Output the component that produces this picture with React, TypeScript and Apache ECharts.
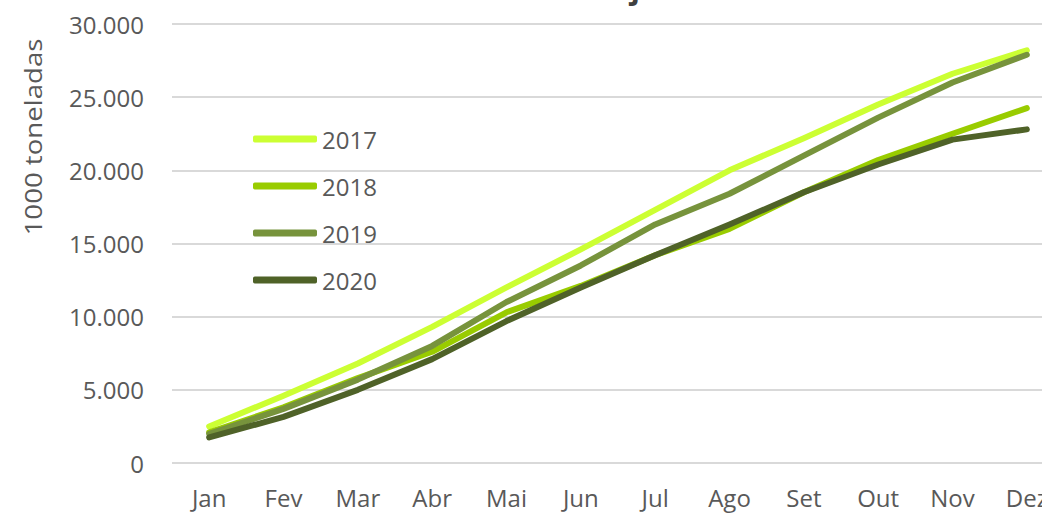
import React, { useEffect, useRef } from "react";
import * as echarts from "echarts";

const months = ["Jan", "Fev", "Mar", "Abr", "Mai", "Jun", "Jul", "Ago", "Set", "Out", "Nov", "Dez"];
const s2017 = [2500, 4600, 6800, 9300, 12000, 14600, 17300, 20000, 22200, 24500, 26600, 28200];
const s2018 = [2100, 3800, 5800, 7600, 10300, 12100, 14200, 16000, 18500, 20700, 22500, 24250];
const s2019 = [2000, 3700, 5700, 8000, 11000, 13500, 16300, 18400, 21000, 23600, 26000, 27900];
const s2020 = [1750, 3150, 5000, 7100, 9700, 12000, 14200, 16300, 18500, 20400, 22100, 22800];
const seriesNames = ["2017", "2018", "2019", "2020"];
const colors = ["#CCFF33", "#99CC00", "#77933C", "#4F6228"];
const yTicks = { min: 0, max: 30000, interval: 5000 };
const titleText = "Farelo de soja";
const yName = "1000 toneladas";

const FONT = "Open Sans";

export default function App() {
  const ref = useRef<HTMLDivElement>(null);
  useEffect(() => {
    if (!ref.current) return;
    const chart = echarts.init(ref.current, undefined, { renderer: "svg" });
    const data = [s2017, s2018, s2019, s2020];
    chart.setOption({
      animation: false,
      backgroundColor: "#ffffff",
      textStyle: { fontFamily: FONT },
      grid: { left: 172, right: 0, top: 24, bottom: 51, containLabel: false },
      legend: {
        orient: "vertical",
        left: 248,
        top: 122,
        itemGap: 23,
        itemWidth: 64,
        itemHeight: 7,
        icon: "roundRect",
        data: seriesNames,
        textStyle: { color: "#595959", fontSize: 24, fontFamily: FONT, padding: [0, 0, 0, 0] },
      },
      xAxis: {
        type: "category",
        data: months,
        boundaryGap: true,
        axisLine: { show: false },
        axisTick: { show: false },
        axisLabel: { color: "#595959", fontSize: 24, fontFamily: FONT, margin: 22, interval: 0 },
      },
      yAxis: {
        type: "value",
        min: yTicks.min,
        max: yTicks.max,
        interval: yTicks.interval,
        axisLine: { show: false },
        axisTick: { show: false },
        splitLine: { lineStyle: { color: "#D9D9D9", width: 2 } },
        axisLabel: {
          color: "#595959",
          fontSize: 24,
          fontFamily: FONT,
          margin: 28,
          formatter: (v: number) => (v === 0 ? "0" : v.toLocaleString("de-DE")),
        },
      },
      graphic: [
        {
          type: "text",
          x: 33,
          y: 137,
          rotation: Math.PI / 2,
          scaleX: 1.15,
          style: {
            text: yName,
            fill: "#595959",
            font: `24px "${FONT}"`,
            textAlign: "center",
            textVerticalAlign: "middle",
          },
        },
        {
          type: "text",
          x: 658,
          y: -13,
          style: {
            text: titleText,
            fill: "#404040",
            font: `bold 30px "${FONT}"`,
            textAlign: "right",
            textVerticalAlign: "middle",
          },
        },
      ],
      series: seriesNames.map((name, i) => ({
        name,
        type: "line",
        data: data[i],
        showSymbol: false,
        symbol: "none",
        smooth: false,
        itemStyle: { color: colors[i] },
        lineStyle: { color: colors[i], width: 6, cap: "round", join: "round" },
      })),
    });
    return () => chart.dispose();
  }, []);
  return (
    <div
      style={{
        position: "fixed",
        left: 0,
        top: 0,
        width: 1042,
        height: 514,
        overflow: "hidden",
        background: "#ffffff",
      }}
    >
      <div ref={ref} style={{ width: 1064, height: 514 }} />
    </div>
  );
}
